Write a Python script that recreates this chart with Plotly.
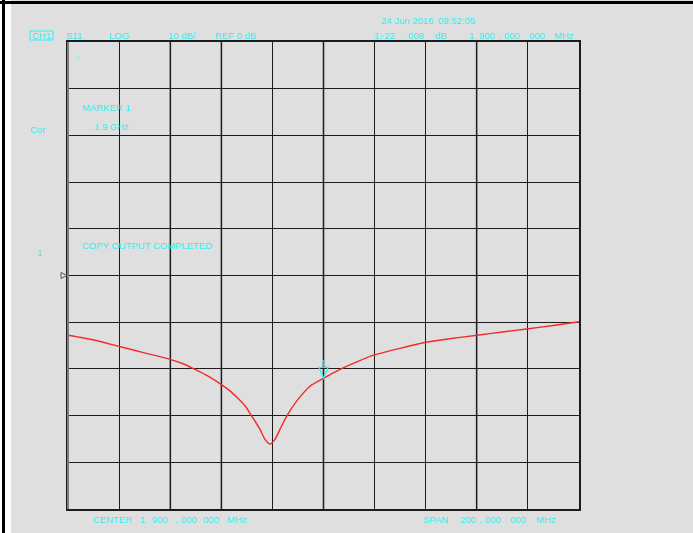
import plotly.graph_objects as go

# ---- data ----
freq_mhz = [1800.0, 1810.0, 1820.1, 1829.5, 1839.6, 1845.0, 1849.7, 1855.0, 1859.9, 1863.4,
            1866.5, 1869.3, 1871.9, 1875.1, 1877.1, 1879.1, 1881.0, 1883.0, 1885.6, 1889.5,
            1894.7, 1900.0, 1906.5, 1913.0, 1918.2, 1924.0, 1929.9, 1940.0, 1950.0, 1960.1,
            1970.0, 1980.2, 1990.0, 2000.0]
s11_db = [-12.8, -13.8, -15.2, -16.5, -17.9, -18.9, -20.1, -21.6, -23.3, -24.7,
          -26.3, -27.9, -30.1, -32.9, -35.1, -36.1, -35.1, -32.9, -30.1, -26.9,
          -23.7, -22.008, -20.1, -18.5, -17.3, -16.4, -15.6, -14.3, -13.5, -12.8,
          -12.1, -11.4, -10.7, -9.9]
marker_freq = 1900.0
marker_db = -22.008

x_range = [1800, 2000]
y_range = [-50, 50]
x_div = 20
y_div = 10

W, H = 693, 533
L, R, T, B = 68, 579, 42, 509
CYAN = "#2ff0f0"
GRAY_BG = "#dfdfdf"
FONT = "Liberation Sans"


def px(x):
    return (x - L) / (R - L)


def py(y):
    return (B - y) / (B - T)


fig = go.Figure()
fig.add_trace(go.Scatter(x=freq_mhz, y=s11_db, mode="lines",
                         line=dict(color="#f22a2a", width=1.4, shape="spline", smoothing=0.6),
                         hoverinfo="skip", showlegend=False))

shapes = []
# emphasised (gray) vertical grid lines as in the screen capture
for gx in [1840, 1860, 1900, 1960]:
    shapes.append(dict(type="line", xref="x", yref="paper", x0=gx, x1=gx, y0=0, y1=1,
                       line=dict(color="#7c7c7c", width=2), layer="below"))
# left border drawn gray
shapes.append(dict(type="line", xref="paper", yref="paper", x0=0, x1=0, y0=0, y1=1,
                   line=dict(color="#7c7c7c", width=2)))
# window frame: white strip + black lines on the left and top
shapes.append(dict(type="rect", xref="paper", yref="paper", xsizemode="pixel", ysizemode="pixel",
                   xanchor=0, yanchor=1, x0=-L, x1=-L + 11, y0=T + 2, y1=-(H - T) - 2,
                   fillcolor="white", line=dict(width=0), layer="below"))
shapes.append(dict(type="rect", xref="paper", yref="paper", xsizemode="pixel", ysizemode="pixel",
                   xanchor=0, yanchor=1, x0=-L + 2, x1=-L + 5, y0=T + 2, y1=-(H - T) - 2,
                   fillcolor="black", line=dict(width=0)))
shapes.append(dict(type="rect", xref="paper", yref="paper", xsizemode="pixel", ysizemode="pixel",
                   xanchor=0, yanchor=1, x0=-L - 2, x1=W - L + 2, y0=T - 1, y1=T - 4,
                   fillcolor="black", line=dict(width=0)))
# CH1 box
shapes.append(dict(type="rect", xref="paper", yref="paper", xsizemode="pixel", ysizemode="pixel",
                   xanchor=0, yanchor=1, x0=30 - L, x1=53 - L, y0=T - 40, y1=T - 31,
                   line=dict(color=CYAN, width=1)))
# reference level pointer
shapes.append(dict(type="path", xref="paper", yref="y", xsizemode="pixel", ysizemode="pixel",
                   xanchor=0, yanchor=0, path="M-7,3 L-7,-3 L-1,0 Z",
                   line=dict(color="#555555", width=1)))
# marker 1 symbol
shapes.append(dict(type="path", xref="x", yref="y", xsizemode="pixel", ysizemode="pixel",
                   xanchor=marker_freq, yanchor=marker_db, path="M-4.5,11 L4.5,11 L0,0 Z",
                   line=dict(color=CYAN, width=1.3)))

ann = []


def txt(t, x, y, size=9.5, anchor="left"):
    ann.append(dict(text=t, xref="paper", yref="paper", x=px(x), y=py(y),
                    xanchor=anchor, yanchor="middle", showarrow=False,
                    font=dict(family=FONT, size=size, color=CYAN)))


# header line 1
txt("24 Jun 2016", 379, 20.5)
txt("09:52:05", 436, 20.5)
# header line 2
txt("CH1", 30, 35.5)
txt("S11", 64, 35.5)
txt("LOG", 107, 35.5)
txt("10 dB/", 166, 35.5)
txt("REF 0 dB", 213, 35.5)
txt("1:", 372, 35.5)
txt("-22", 379, 35.5)
txt(".", 399, 35.5)
txt("008", 406, 35.5)
txt("dB", 433, 35.5)
txt("1", 467, 35.5)
txt("900", 477, 35.5)
txt(".", 496, 35.5)
txt("000", 502, 35.5)
txt("000", 527, 35.5)
txt("MHz", 552, 35.5)
# inside / left labels
txt("\u2248", 74, 57, size=7)
txt("MARKER 1", 80, 107.5)
txt("1.9 GHz", 92, 126.5)
txt("Cor", 28, 129)
txt("COPY OUTPUT COMPLETED", 80, 246)
txt("1", 35, 253)
# footer
txt("CENTER", 91, 519)
txt("1", 138, 519)
txt("900", 150, 519)
txt(".", 173, 519)
txt("000", 179, 519)
txt("000", 201, 519)
txt("MHz", 225, 519)
txt("SPAN", 421, 519)
txt("200", 458, 519)
txt(".", 477, 519)
txt("000", 483, 519)
txt("000", 508, 519)
txt("MHz", 534, 519)

# marker number above the marker symbol
ann.append(dict(text="1", x=marker_freq, y=marker_db, xref="x", yref="y",
                showarrow=False, yanchor="middle", xanchor="center", yshift=15,
                font=dict(family=FONT, size=9, color=CYAN)))

fig.update_layout(
    width=W, height=H,
    margin=dict(l=L, r=W - R, t=T, b=H - B, pad=0),
    paper_bgcolor=GRAY_BG, plot_bgcolor=GRAY_BG,
    shapes=shapes, annotations=ann, showlegend=False,
    xaxis=dict(range=x_range, dtick=x_div, tick0=x_range[0], showgrid=True,
               gridcolor="#1c1c1c", gridwidth=1, showticklabels=False, ticks="",
               zeroline=False, showline=True, linecolor="#1c1c1c", linewidth=1.5,
               mirror=True, fixedrange=True),
    yaxis=dict(range=y_range, dtick=y_div, tick0=y_range[0], showgrid=True,
               gridcolor="#1c1c1c", gridwidth=1, showticklabels=False, ticks="",
               zeroline=False, showline=True, linecolor="#1c1c1c", linewidth=1.5,
               mirror=True, fixedrange=True),
)

fig.write_html("out.html", config=dict(displayModeBar=False),
               post_script="document.body.style.margin='0';document.body.style.background='#dfdfdf';")
